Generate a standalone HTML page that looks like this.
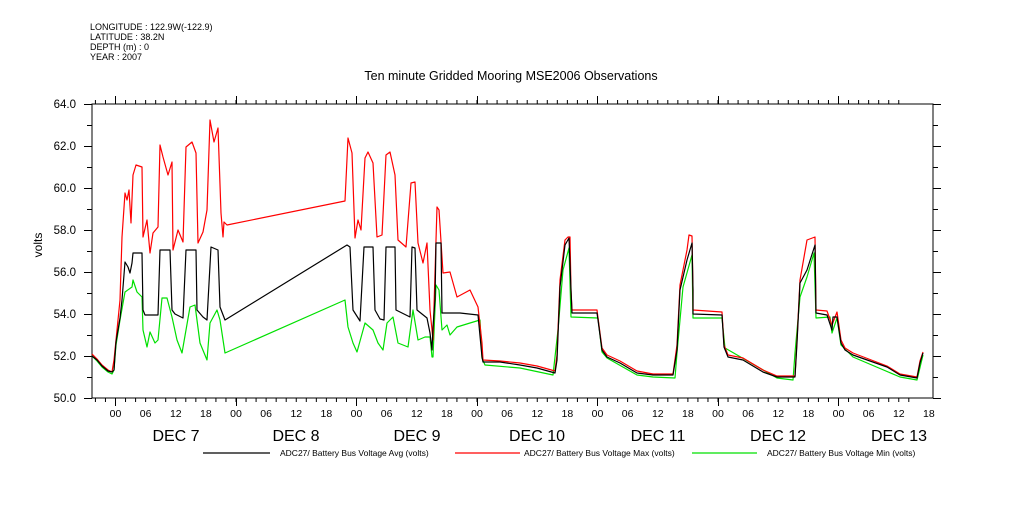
<!DOCTYPE html>
<html><head><meta charset="utf-8"><style>
body{margin:0;background:#fff;width:1009px;height:504px;overflow:hidden}
svg text{font-family:"Liberation Sans",sans-serif;fill:#000}
</style></head><body>
<svg width="1009" height="504" xmlns="http://www.w3.org/2000/svg">
<g font-size="9">
<text x="90" y="30">LONGITUDE : 122.9W(-122.9)</text>
<text x="90" y="40">LATITUDE : 38.2N</text>
<text x="90" y="50">DEPTH (m) : 0</text>
<text x="90" y="60">YEAR : 2007</text>
</g>
<text x="511" y="80" font-size="12.5" text-anchor="middle">Ten minute Gridded Mooring MSE2006 Observations</text>
<rect x="92" y="104" width="841" height="294" fill="none" stroke="#000" stroke-width="1"/>
<g stroke="#000" stroke-width="1" fill="none">
<path d="M95.42 398v4m10.0417 -4v4m10.0417 -4v4m10.0417 -4v4m10.0417 -4v4m10.0417 -4v4m10.0417 -4v4m10.0417 -4v4m10.0417 -4v4m10.0417 -4v4m10.0417 -4v4m10.0417 -4v4m10.0417 -4v4m10.0417 -4v4m10.0417 -4v4m10.0417 -4v4m10.0417 -4v4m10.0417 -4v4m10.0417 -4v4m10.0417 -4v4m10.0417 -4v4m10.0417 -4v4m10.0417 -4v4m10.0417 -4v4m10.0417 -4v4m10.0417 -4v4m10.0417 -4v4m10.0417 -4v4m10.0417 -4v4m10.0417 -4v4m10.0417 -4v4m10.0417 -4v4m10.0417 -4v4m10.0417 -4v4m10.0417 -4v4m10.0417 -4v4m10.0417 -4v4m10.0417 -4v4m10.0417 -4v4m10.0417 -4v4m10.0417 -4v4m10.0417 -4v4m10.0417 -4v4m10.0417 -4v4m10.0417 -4v4m10.0417 -4v4m10.0417 -4v4m10.0417 -4v4m10.0417 -4v4m10.0417 -4v4m10.0417 -4v4m10.0417 -4v4m10.0417 -4v4m10.0417 -4v4m10.0417 -4v4m10.0417 -4v4m10.0417 -4v4m10.0417 -4v4m10.0417 -4v4m10.0417 -4v4m10.0417 -4v4m10.0417 -4v4m10.0417 -4v4m10.0417 -4v4m10.0417 -4v4m10.0417 -4v4m10.0417 -4v4m10.0417 -4v4m10.0417 -4v4m10.0417 -4v4m10.0417 -4v4m10.0417 -4v4m10.0417 -4v4m10.0417 -4v4m10.0417 -4v4m10.0417 -4v4m10.0417 -4v4m10.0417 -4v4m10.0417 -4v4m10.0417 -4v4m10.0417 -4v4m10.0417 -4v4"/>
<path d="M95.42 104v-4m10.0417 4v-4m10.0417 4v-4m10.0417 4v-4m10.0417 4v-4m10.0417 4v-4m10.0417 4v-4m10.0417 4v-4m10.0417 4v-4m10.0417 4v-4m10.0417 4v-4m10.0417 4v-4m10.0417 4v-4m10.0417 4v-4m10.0417 4v-4m10.0417 4v-4m10.0417 4v-4m10.0417 4v-4m10.0417 4v-4m10.0417 4v-4m10.0417 4v-4m10.0417 4v-4m10.0417 4v-4m10.0417 4v-4m10.0417 4v-4m10.0417 4v-4m10.0417 4v-4m10.0417 4v-4m10.0417 4v-4m10.0417 4v-4m10.0417 4v-4m10.0417 4v-4m10.0417 4v-4m10.0417 4v-4m10.0417 4v-4m10.0417 4v-4m10.0417 4v-4m10.0417 4v-4m10.0417 4v-4m10.0417 4v-4m10.0417 4v-4m10.0417 4v-4m10.0417 4v-4m10.0417 4v-4m10.0417 4v-4m10.0417 4v-4m10.0417 4v-4m10.0417 4v-4m10.0417 4v-4m10.0417 4v-4m10.0417 4v-4m10.0417 4v-4m10.0417 4v-4m10.0417 4v-4m10.0417 4v-4m10.0417 4v-4m10.0417 4v-4m10.0417 4v-4m10.0417 4v-4m10.0417 4v-4m10.0417 4v-4m10.0417 4v-4m10.0417 4v-4m10.0417 4v-4m10.0417 4v-4m10.0417 4v-4m10.0417 4v-4m10.0417 4v-4m10.0417 4v-4m10.0417 4v-4m10.0417 4v-4m10.0417 4v-4m10.0417 4v-4m10.0417 4v-4m10.0417 4v-4m10.0417 4v-4m10.0417 4v-4m10.0417 4v-4m10.0417 4v-4m10.0417 4v-4m10.0417 4v-4"/>
<path d="M115.5 398v8M236.5 398v8M356.5 398v8M477.5 398v8M597.5 398v8M718.5 398v8M838.5 398v8M115.5 104v-8M236.5 104v-8M356.5 104v-8M477.5 104v-8M597.5 104v-8M718.5 104v-8M838.5 104v-8"/>
<path d="M84 104.5h8M87 125.5h5M84 146.5h8M87 167.5h5M84 188.5h8M87 209.5h5M84 230.5h8M87 251.5h5M84 272.5h8M87 293.5h5M84 314.5h8M87 335.5h5M84 356.5h8M87 377.5h5M84 398.5h8"/>
<path d="M933 104.5h8M933 125.5h5M933 146.5h8M933 167.5h5M933 188.5h8M933 209.5h5M933 230.5h8M933 251.5h5M933 272.5h8M933 293.5h5M933 314.5h8M933 335.5h5M933 356.5h8M933 377.5h5M933 398.5h8"/>
</g>
<g font-size="11.5" text-anchor="end">
<text x="76" y="108">64.0</text><text x="76" y="150">62.0</text><text x="76" y="192">60.0</text>
<text x="76" y="234">58.0</text><text x="76" y="276">56.0</text><text x="76" y="318">54.0</text>
<text x="76" y="360">52.0</text><text x="76" y="402">50.0</text>
</g>
<text transform="translate(42,245) rotate(-90)" font-size="12" text-anchor="middle">volts</text>
<g font-size="10.5" text-anchor="middle">
<text x="115.5" y="417">00</text><text x="145.6" y="417">06</text><text x="175.8" y="417">12</text><text x="205.9" y="417">18</text>
<text x="236" y="417">00</text><text x="266.1" y="417">06</text><text x="296.3" y="417">12</text><text x="326.4" y="417">18</text>
<text x="356.5" y="417">00</text><text x="386.6" y="417">06</text><text x="416.8" y="417">12</text><text x="446.9" y="417">18</text>
<text x="477" y="417">00</text><text x="507.1" y="417">06</text><text x="537.3" y="417">12</text><text x="567.4" y="417">18</text>
<text x="597.5" y="417">00</text><text x="627.6" y="417">06</text><text x="657.8" y="417">12</text><text x="687.9" y="417">18</text>
<text x="718" y="417">00</text><text x="748.1" y="417">06</text><text x="778.3" y="417">12</text><text x="808.4" y="417">18</text>
<text x="838.5" y="417">00</text><text x="868.6" y="417">06</text><text x="898.8" y="417">12</text><text x="928.9" y="417">18</text>
</g>
<g font-size="16" text-anchor="middle">
<text x="176" y="441">DEC  7</text><text x="296" y="441">DEC  8</text><text x="417" y="441">DEC  9</text>
<text x="537" y="441">DEC 10</text><text x="658" y="441">DEC 11</text><text x="778" y="441">DEC 12</text><text x="899" y="441">DEC 13</text>
</g>
<g fill="none" stroke-width="1.2" stroke-linejoin="round">
<polyline stroke="#00e000" points="92,356 97,361 102,367 108,372 112,374 114,370 116,345 120,320 125,292 132,287 133,280 137,292 142,297 143,330 147,347 150,332 155,343 158,340 162,298 167,298 172,317 177,340 182,353 190,307 195,305 200,343 207,360 210,323 217,310 220,320 225,353 345,300 348,327 353,343 357,352 365,323 373,330 378,343 383,350 387,323 393,317 398,343 408,347 413,310 418,340 425,337 430,337 432,357 433,357 436,285 439,290 442,330 447,325 450,335 457,327 470,323 480,320 482,358 485,365 520,368 553,375 558,330 563,270 569,248 571,317 598,318 602,352 607,358 637,375 653,377 675,378 677,353 683,287 692,255 693,318 722,318 725,348 777,378 793,380 795,353 800,297 807,277 814,253 816,318 830,317 832,333 837,318 841,345 853,357 900,377 917,380 923,355"/>
<polyline stroke="#ff0000" points="92,354 97,359 102,365 108,370 112,372 114,360 116,340 120,300 122,237 125,193 127,200 129,190 131,223 133,175 136,165 142,167 143,237 147,220 150,253 153,233 158,227 160,145 163,157 168,175 172,162 173,250 178,230 183,242 186,147 192,142 196,153 198,243 203,232 207,210 210,120 214,142 218,128 221,213 223,237 224,222 227,225 345,201 348,138 352,153 355,238 358,220 361,230 365,158 368,152 373,163 377,237 382,235 386,155 390,152 395,175 398,240 406,247 411,183 415,182 418,243 423,263 427,243 430,310 433,340 437,207 439,210 443,273 450,272 457,297 470,290 478,307 482,343 483,360 500,361 520,363 537,366 555,371 557,355 560,280 565,240 568,237 570,237 571,290 572,310 597,310 598,318 602,348 607,355 620,361 637,371 653,374 673,374 677,345 680,285 687,250 689,235 692,236 693,290 693,310 722,312 724,345 728,355 743,358 763,370 777,376 795,376 797,340 800,280 807,240 815,237 816,310 827,311 832,325 837,312 841,340 845,348 853,353 887,366 900,374 917,377 920,361 923,352"/>
<polyline stroke="#000" points="92,356 97,360 102,366 108,371 112,372 114,370 115,355 116,342 118,330 120,318 122,300 125,262 128,267 130,273 132,263 133,253 142,253 143,310 145,315 158,315 160,250 170,250 172,310 175,314 183,318 186,250 196,250 197,310 203,317 207,320 211,247 218,250 220,307 225,320 347,245 350,247 353,310 360,321 364,247 373,247 375,310 380,319 384,320 386,247 395,247 396,310 410,317 412,247 415,248 417,310 427,318 430,333 432,350 433,327 435,300 436,243 441,243 442,313 460,313 478,315 482,357 483,362 500,362 520,365 537,368 555,373 557,360 560,287 565,245 569,238 571,290 572,313 597,313 598,320 602,350 607,357 620,363 637,373 653,375 673,375 677,350 680,290 687,260 692,243 693,290 693,314 722,315 724,347 728,357 743,360 763,372 777,377 795,377 797,343 800,283 807,270 815,245 816,313 827,315 832,330 833,317 837,317 841,343 845,350 853,355 887,367 900,375 917,378 920,363 923,353"/>
</g>
<g stroke-width="1.2">
<line x1="203" y1="453" x2="270" y2="453" stroke="#000"/>
<line x1="455" y1="453" x2="520" y2="453" stroke="#ff0000"/>
<line x1="692" y1="453" x2="757" y2="453" stroke="#00e000"/>
</g>
<g font-size="8.5">
<text x="280" y="456">ADC27/ Battery Bus Voltage Avg (volts)</text>
<text x="524" y="456">ADC27/ Battery Bus Voltage Max (volts)</text>
<text x="767" y="456">ADC27/ Battery Bus Voltage Min (volts)</text>
</g>
</svg>
</body></html>
